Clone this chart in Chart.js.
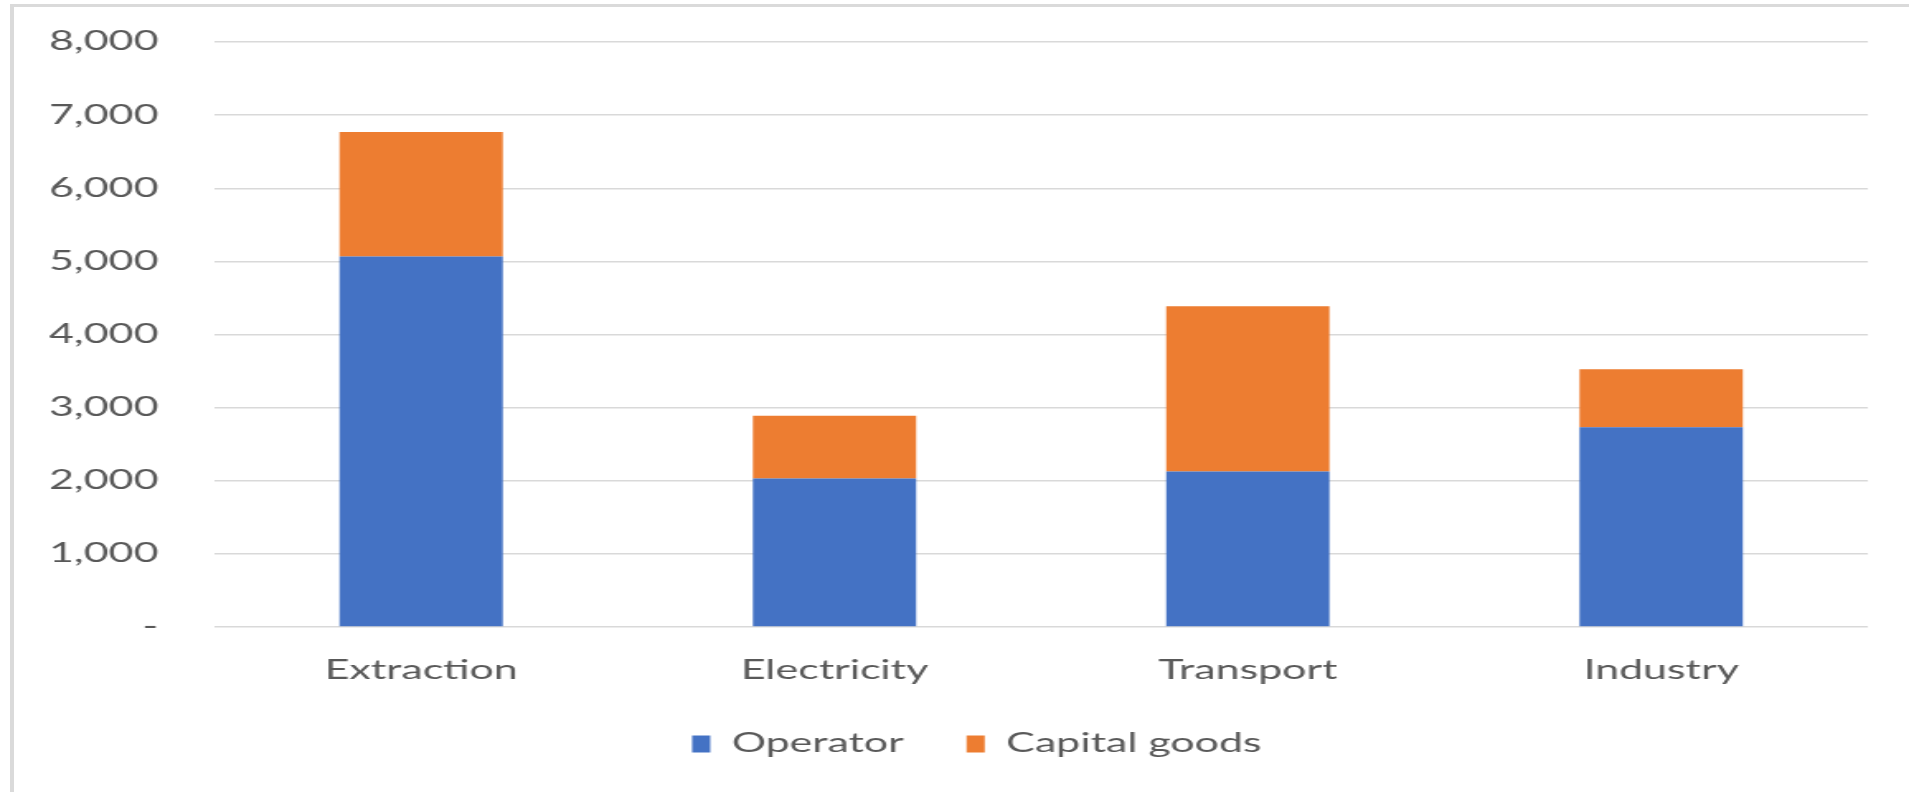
<!DOCTYPE html>
<html>
<head>
<meta charset="utf-8">
<title>Operator and capital goods by sector</title>
<script src="https://cdn.jsdelivr.net/npm/chart.js@4.4.1/dist/chart.umd.min.js"></script>
<style>
  html, body { margin: 0; padding: 0; background: #fff; overflow: hidden; }
  /* light frame on the left and top edges */
  #frame { position: absolute; left: 10px; top: 4px; width: 1920px; height: 800px;
           border-left: 4px solid #dadada; border-top: 3px solid #dadada; }
  /* chart is laid out narrow, then widened */
  #wrap { position: absolute; left: 0; top: 0; width: 1157px; height: 792px;
          transform: scaleX(1.65); transform-origin: 0 0; }
</style>
</head>
<body>
<div id="frame"></div>
<div id="wrap"><canvas id="chart"></canvas></div>
<script>
const sectors = ['Extraction', 'Electricity', 'Transport', 'Industry'];
const operatorValues = [5065, 2030, 2125, 2730];
const capitalGoodsValues = [1705, 860, 2260, 795];
const yMax = 8000;
const yStep = 1000;

const textColor = '#595959';
const gridColor = '#d9d9d9';
const fontFamily = 'Lato, "Open Sans", sans-serif';

// nudge the legend a little right of the canvas centre
const legendShift = {
    id: 'legendShift',
    afterLayout(chart) {
        if (chart.legend) {
            chart.legend.left += 26;
            chart.legend.right += 26;
        }
    }
};

const ctx = document.getElementById('chart');
new Chart(ctx, {
    type: 'bar',
    data: {
        labels: sectors,
        datasets: [
            {
                label: 'Operator',
                data: operatorValues,
                backgroundColor: '#4472C4',
                borderWidth: 0
            },
            {
                label: 'Capital goods',
                data: capitalGoodsValues,
                backgroundColor: '#ED7D31',
                borderWidth: 0
            }
        ]
    },
    options: {
        responsive: true,
        maintainAspectRatio: false,
        animation: false,
        datasets: {
            bar: { categoryPercentage: 1, barPercentage: 0.395 }
        },
        layout: {
            padding: { top: 42, left: 0, right: 25, bottom: 25 }
        },
        scales: {
            x: {
                stacked: true,
                border: { display: false },
                grid: { display: false, drawTicks: false },
                ticks: {
                    color: textColor,
                    padding: 28,
                    font: { family: fontFamily, size: 26 }
                },
                afterFit: scale => { scale.height = 66; }
            },
            y: {
                stacked: true,
                min: 0,
                max: yMax,
                border: { display: false },
                // invisible tick marks keep the labels away from the plot
                grid: { color: gridColor, lineWidth: 1.5, drawTicks: true, tickLength: 34, tickColor: 'rgba(0,0,0,0)' },
                ticks: {
                    stepSize: yStep,
                    color: textColor,
                    padding: 0,
                    font: { family: fontFamily, size: 26 },
                    callback: v => v === 0 ? '-' : v.toLocaleString('en-US')
                },
                afterFit: scale => { scale.width = 130; }
            }
        },
        plugins: {
            legend: {
                position: 'bottom',
                labels: {
                    color: textColor,
                    boxWidth: 11,
                    boxHeight: 17,
                    padding: 38,
                    font: { family: fontFamily, size: 26 }
                }
            },
            tooltip: { enabled: false }
        }
    },
    plugins: [legendShift]
});
</script>
</body>
</html>
